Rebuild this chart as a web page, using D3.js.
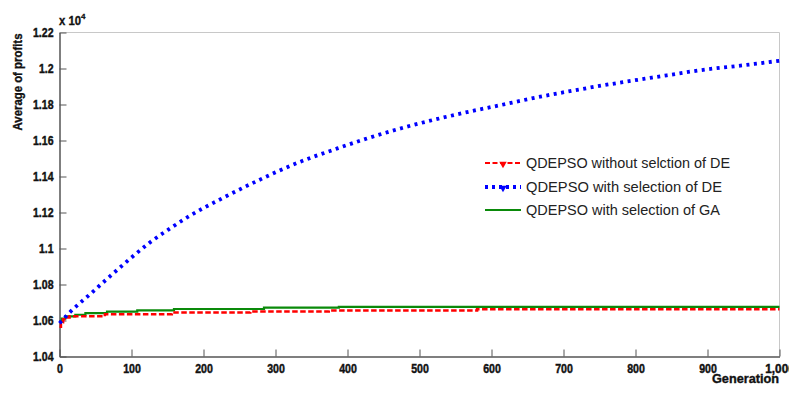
<!DOCTYPE html>
<html>
<head>
<meta charset="utf-8">
<script src="https://cdnjs.cloudflare.com/ajax/libs/d3/7.8.5/d3.min.js"></script>
<style>
  body { margin: 0; background: #fff; }
  .narrow { font-family: "Liberation Sans Narrow", "Liberation Sans", Arial, sans-serif; font-weight: bold; }
  .legend text { font-family: "Liberation Sans", Arial, sans-serif; }
</style>
</head>
<body>
<div class="canvasView"></div>
<script>
// data (values in units of 10^4)
var yTicks = [1.04, 1.06, 1.08, 1.1, 1.12, 1.14, 1.16, 1.18, 1.2, 1.22];
var yTickLabels = ['1.04', '1.06', '1.08', '1.1', '1.12', '1.14', '1.16', '1.18', '1.2', '1.22'];
var xTicks = [0, 100, 200, 300, 400, 500, 600, 700, 800, 900, 1000];

var seriesNames = ['QDEPSO without selction of DE', 'QDEPSO with selection  of DE', 'QDEPSO with selection of GA'];

var redGen = [0, 2, 5, 9, 14, 63, 156, 265, 374, 580, 1000];
var redVal = [1.0565, 1.0590, 1.0607, 1.0617, 1.0623, 1.0635, 1.0644, 1.0650, 1.0656, 1.0662, 1.0662];

var blueGen = [0, 15, 43, 70, 98, 126, 155, 179, 226, 277, 330, 386, 430, 478, 525, 571, 613, 655, 706, 750, 798, 845, 891, 950, 1000];
var blueVal = [1.0585, 1.0648, 1.0748, 1.0845, 1.0943, 1.1035, 1.1115, 1.1177, 1.1279, 1.138, 1.1475, 1.1556, 1.1615, 1.1672, 1.172, 1.1762, 1.1797, 1.1833, 1.1872, 1.1903, 1.1934, 1.1963, 1.1991, 1.2018, 1.2043];

var greenGen = [0, 3, 8, 22, 36, 66, 108, 159, 284, 388, 1000];
var greenVal = [1.0592, 1.0610, 1.0623, 1.0632, 1.0641, 1.0649, 1.0656, 1.0664, 1.0671, 1.0676, 1.0676];

var width = 789, height = 394;
var plotLeft = 59.5, plotRight = 779.5, plotTop = 32.5, plotBottom = 356.5;

var svg = d3.select('.canvasView').append('svg')
  .attr('width', width)
  .attr('height', height);

svg.append('rect').attr('width', width).attr('height', height).attr('fill', '#fff');

var x = d3.scaleLinear().domain([0, 1000]).range([plotLeft, plotRight]);
var y = d3.scaleLinear().domain([1.04, 1.22]).range([plotBottom, plotTop]);

//squeeze the bold labels to look like the narrow font of the original
function squeeze(sel) {
  sel.attr('textLength', function() {
    var t = d3.select(this).text();
    var dots = (t.match(/\./g) || []).length;
    return (t.length - dots) * 5.9 + dots * 2.8;
  }).attr('lengthAdjust', 'spacingAndGlyphs')
    .attr('stroke', '#111').attr('stroke-width', 0.45);
}

//light box on top and right
svg.append('path')
  .attr('d', 'M' + plotLeft + ',' + plotTop + 'H' + plotRight + 'V' + plotBottom)
  .attr('fill', 'none')
  .attr('stroke', '#c8c8c8')
  .attr('stroke-width', 1);

//bottom axis, ticks pointing inward
var xAxis = svg.append('g')
  .attr('class', 'narrow')
  .attr('transform', 'translate(0,' + plotBottom + ')')
  .call(d3.axisBottom(x).tickValues(xTicks).tickSizeInner(-7).tickSizeOuter(0).tickPadding(7));
xAxis.select('.domain').attr('stroke', '#555').attr('stroke-width', 1.5);
xAxis.selectAll('.tick line').attr('stroke', '#555');
xAxis.selectAll('.tick text').attr('font-size', 13).attr('fill', '#111').call(squeeze);

//left axis
var yAxis = svg.append('g')
  .attr('class', 'narrow')
  .attr('transform', 'translate(' + plotLeft + ',0)')
  .call(d3.axisLeft(y).tickValues(yTicks)
    .tickFormat(function(d, i) { return yTickLabels[i]; })
    .tickSizeInner(-7).tickSizeOuter(0).tickPadding(6));
yAxis.select('.domain').attr('stroke', '#555').attr('stroke-width', 1.5);
yAxis.selectAll('.tick line').attr('stroke', '#555');
yAxis.selectAll('.tick text').attr('font-size', 13).attr('fill', '#111').call(squeeze);

//exponent label
var expo = svg.append('text').attr('class', 'narrow')
  .attr('x', 59).attr('y', 25).attr('font-size', 12).attr('fill', '#111')
  .attr('stroke', '#111').attr('stroke-width', 0.3);
expo.append('tspan').attr('textLength', 22).attr('lengthAdjust', 'spacingAndGlyphs').text('x 10');
expo.append('tspan').attr('dy', -6).attr('font-size', 8).text('4');

svg.append('text').attr('class', 'narrow')
  .attr('transform', 'translate(22,82) rotate(-90)')
  .attr('text-anchor', 'middle')
  .attr('font-size', 12)
  .attr('fill', '#111')
  .attr('stroke', '#111').attr('stroke-width', 0.35)
  .attr('textLength', 97)
  .attr('lengthAdjust', 'spacingAndGlyphs')
  .text('Average of profits');

svg.append('text').attr('class', 'narrow')
  .attr('x', 779).attr('y', 383)
  .attr('text-anchor', 'end')
  .attr('font-size', 12)
  .attr('fill', '#111')
  .attr('stroke', '#111').attr('stroke-width', 0.35)
  .attr('textLength', 67)
  .attr('lengthAdjust', 'spacingAndGlyphs')
  .text('Generation');

function pairs(g, v) {
  return g.map(function(d, i) { return [d, v[i]]; });
}

var stepLine = d3.line()
  .x(function(d) { return x(d[0]); })
  .y(function(d) { return y(d[1]); })
  .curve(d3.curveStepAfter);

var smoothLine = d3.line()
  .x(function(d) { return x(d[0]); })
  .y(function(d) { return y(d[1]); })
  .curve(d3.curveMonotoneX);

svg.append('path')
  .attr('d', stepLine(pairs(greenGen, greenVal)))
  .attr('fill', 'none')
  .attr('stroke', '#0a8a0a')
  .attr('stroke-width', 2.2);

svg.append('path')
  .attr('d', stepLine(pairs(redGen, redVal)))
  .attr('fill', 'none')
  .attr('stroke', '#ff0000')
  .attr('stroke-width', 2.5)
  .attr('stroke-dasharray', '5.5,2.5');

svg.append('path')
  .attr('d', smoothLine(pairs(blueGen, blueVal)))
  .attr('fill', 'none')
  .attr('stroke', '#0000ff')
  .attr('stroke-width', 3.8)
  .attr('stroke-dasharray', '3,4.5');

//legend
var legendStyles = [
  { color: '#ff0000', dash: '5,2.5', w: 2.2, marker: true },
  { color: '#0000ff', dash: '3,4', w: 4, marker: true },
  { color: '#0a8a0a', dash: null, w: 2, marker: false }
];
var legendRows = [163, 187, 210];
var legendWidths = [204, 196, 194];

var legend = svg.append('g').attr('class', 'legend');
seriesNames.forEach(function(name, i) {
  var s = legendStyles[i];
  var row = legend.append('g');
  row.append('line')
    .attr('x1', 485).attr('x2', 521)
    .attr('y1', legendRows[i]).attr('y2', legendRows[i])
    .attr('stroke', s.color)
    .attr('stroke-width', s.w)
    .attr('stroke-dasharray', s.dash);
  if (s.marker) {
    row.append('path')
      .attr('d', d3.symbol().type(d3.symbolTriangle).size(24))
      .attr('transform', 'translate(503,' + (legendRows[i] + 1) + ') rotate(180)')
      .attr('fill', s.color);
  }
  row.append('text')
    .attr('x', 526).attr('y', legendRows[i] + 5)
    .attr('font-size', 14.5)
    .attr('fill', '#222')
    .attr('textLength', legendWidths[i])
    .attr('lengthAdjust', 'spacingAndGlyphs')
    .text(name);
});
</script>
</body>
</html>
